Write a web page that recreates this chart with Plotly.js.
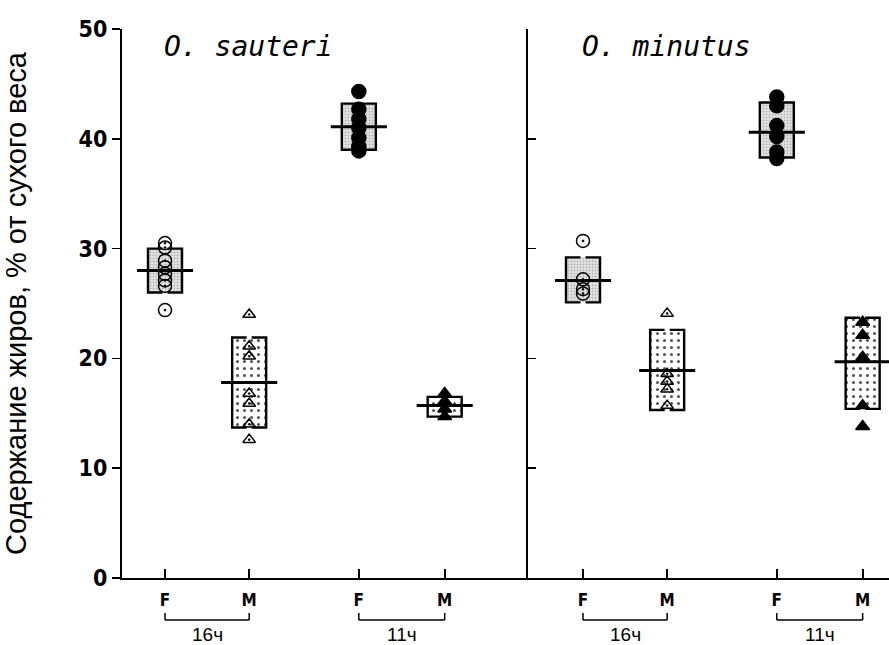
<!DOCTYPE html>
<html><head><meta charset="utf-8">
<script src="https://cdn.plot.ly/plotly-3.0.1.min.js"></script>
<style>body{margin:0;background:#fff}#chart{width:889px;height:645px}</style>
</head><body><div id="chart"></div>
<script>
// ---- data ----
const groupKeys = ["F16", "M16", "F11", "M11"];
const tickLabels = ["F", "M", "F", "M"];
const photoperiods = ["16ч", "11ч"];
const speciesNames = ["O. sauteri", "O. minutus"];
const yTitle = "Содержание жиров, % от сухого веса";

// O. sauteri
const sauteriMean = [28.0, 17.8, 41.1, 15.7];
const sauteriLow  = [26.0, 13.7, 39.0, 14.7];
const sauteriHigh = [30.0, 21.9, 43.2, 16.5];
const sauteriF16 = [30.5, 30.1, 28.9, 28.3, 27.7, 27.1, 26.6, 24.4];
const sauteriM16 = [24.0, 21.1, 20.2, 16.8, 15.9, 14.0, 12.6];
const sauteriF11 = [44.3, 42.7, 41.8, 41.0, 40.1, 39.3, 38.9];
const sauteriM11 = [16.8, 16.1, 15.4, 14.7];

// O. minutus
const minutusMean = [27.1, 18.9, 40.6, 19.7];
const minutusLow  = [25.1, 15.3, 38.3, 15.4];
const minutusHigh = [29.2, 22.6, 43.3, 23.7];
const minutusF16 = [30.7, 27.2, 26.3, 25.9];
const minutusM16 = [24.1, 18.6, 17.9, 17.2, 15.7];
const minutusF11 = [43.8, 43.0, 41.2, 40.2, 38.8, 38.2];
const minutusM11 = [23.3, 22.1, 20.1, 15.7, 13.8];

// ---- layout constants ----
const POS = [1, 1.99, 3.28, 4.29];
const BOXW = 0.4, MEANW = 0.33, CAP = 0.17;
const markerSym = ["circle-open-dot", "triangle-up-open-dot", "circle", "triangle-up"];
const markerSize = [13, 11, 14, 12];

const panels = [
  {x: "x", y: "y", mean: sauteriMean, lo: sauteriLow, hi: sauteriHigh,
   pts: [sauteriF16, sauteriM16, sauteriF11, sauteriM11]},
  {x: "x2", y: "y2", mean: minutusMean, lo: minutusLow, hi: minutusHigh,
   pts: [minutusF16, minutusM16, minutusF11, minutusM11]}
];

const traces = [];
panels.forEach(p => {
  groupKeys.forEach((g, i) => {
    const isF = g[0] === "F";
    const x0 = POS[i];
    // stippled box
    traces.push({
      type: "bar", x: [x0], base: [p.lo[i]], y: [p.hi[i] - p.lo[i]], width: BOXW,
      xaxis: p.x, yaxis: p.y, showlegend: false, hoverinfo: "skip",
      marker: isF
        ? {color: "#dcdcdc", line: {width: 0},
           pattern: {shape: ".", fgcolor: "#b0b0b0", bgcolor: "#e6e6e6", size: 3, solidity: 0.3}}
        : {color: "#ffffff", line: {width: 0},
           pattern: {shape: ".", fgcolor: "#555", bgcolor: "#ffffff", size: 7, solidity: 0.15}}
    });
    // bracket outline
    const l = x0 - BOXW / 2, r = x0 + BOXW / 2;
    traces.push({
      type: "scatter", mode: "lines", xaxis: p.x, yaxis: p.y, showlegend: false, hoverinfo: "skip",
      x: [l + CAP, l, l, l + CAP, null, r - CAP, r, r, r - CAP],
      y: [p.hi[i], p.hi[i], p.lo[i], p.lo[i], null, p.hi[i], p.hi[i], p.lo[i], p.lo[i]],
      line: {color: "#000", width: 2.4}
    });
    // individual points
    traces.push({
      type: "scatter", mode: "markers", xaxis: p.x, yaxis: p.y, showlegend: false,
      x: p.pts[i].map(() => x0), y: p.pts[i],
      marker: {symbol: markerSym[i], size: markerSize[i], color: "#000",
               line: {color: "#000", width: 1.5}}
    });
    // mean line
    traces.push({
      type: "scatter", mode: "lines", xaxis: p.x, yaxis: p.y, showlegend: false,
      x: [x0 - MEANW, x0 + MEANW], y: [p.mean[i], p.mean[i]],
      line: {color: "#000", width: 3}
    });
  });
});

const W = 889, H = 645, ML = 122, MR = 0, MT = 29, MB = 67;
const plotW = W - ML - MR, plotH = H - MT - MB;
const split = (528 - ML) / plotW;
const py = pix => (H - MB - pix) / plotH; // pixel y -> paper y

const condFamily = "DejaVu Sans Condensed, Liberation Sans Narrow, Arial Narrow, sans-serif";
const tickFont = {family: condFamily, size: 17, color: "#000", weight: "bold"};
const xCommon = {
  tickmode: "array", tickvals: POS, ticktext: tickLabels, ticks: "inside", ticklen: 9, tickwidth: 2,
  tickcolor: "#000", showline: true, linecolor: "#000", linewidth: 2, showgrid: false, zeroline: false,
  tickfont: tickFont, ticklabelstandoff: 6, fixedrange: true
};

const shapes = [], annotations = [];
["x", "x2"].forEach(xr => {
  [[0, 1], [2, 3]].forEach((pair, k) => {
    const a = POS[pair[0]], b = POS[pair[1]];
    shapes.push({type: "line", xref: xr, yref: "paper", x0: a, x1: b, y0: py(620), y1: py(620), line: {color: "#000", width: 1.5}});
    shapes.push({type: "line", xref: xr, yref: "paper", x0: a, x1: a, y0: py(620), y1: py(613), line: {color: "#000", width: 1.5}});
    shapes.push({type: "line", xref: xr, yref: "paper", x0: b, x1: b, y0: py(620), y1: py(613), line: {color: "#000", width: 1.5}});
    annotations.push({xref: xr, yref: "paper", x: (a + b) / 2, y: py(622), yanchor: "top", xanchor: "center",
      text: photoperiods[k], showarrow: false,
      font: {family: "Liberation Sans, Arial, sans-serif", size: 19, color: "#000"}});
  });
});
speciesNames.forEach((s, k) => {
  const parts = s.split(" ");
  annotations.push({xref: k === 0 ? "x" : "x2", yref: "paper", x: POS[0] - 0.03, xanchor: "left",
    y: py(46), yanchor: "middle", showarrow: false,
    text: "<i>" + parts[0] + " " + parts[1] + "</i>",
    font: {family: "DejaVu Sans Mono, monospace", size: 28, color: "#000"}});
});

const layout = {
  width: W, height: H, margin: {l: ML, r: MR, t: MT, b: MB},
  paper_bgcolor: "#fff", plot_bgcolor: "#fff", barmode: "overlay", showlegend: false,
  xaxis: Object.assign({}, xCommon, {domain: [0, split], range: [0.494, 5.27], anchor: "y"}),
  xaxis2: Object.assign({}, xCommon, {domain: [split, 1], range: [0.353, 4.6], anchor: "y2"}),
  yaxis: {range: [0, 50], anchor: "x", tickvals: [0, 10, 20, 30, 40, 50], ticks: "outside", ticklen: 8,
    tickwidth: 1.5, tickcolor: "#000", showline: true, linecolor: "#000", linewidth: 2, showgrid: false,
    zeroline: false, fixedrange: true,
    tickfont: Object.assign({}, tickFont, {size: 23}),
    title: {text: yTitle, standoff: 44, font: {family: "Liberation Sans, Arial, sans-serif", size: 29, color: "#000"}}},
  yaxis2: {range: [0, 50], anchor: "x2", tickvals: [10, 20, 30, 40], ticks: "inside", ticklen: 8,
    tickwidth: 1.5, tickcolor: "#000", showline: true, linecolor: "#000", linewidth: 2, showgrid: false,
    zeroline: false, showticklabels: false, fixedrange: true},
  shapes: shapes, annotations: annotations
};

Plotly.newPlot("chart", traces, layout, {displayModeBar: false, staticPlot: true});
</script></body></html>
